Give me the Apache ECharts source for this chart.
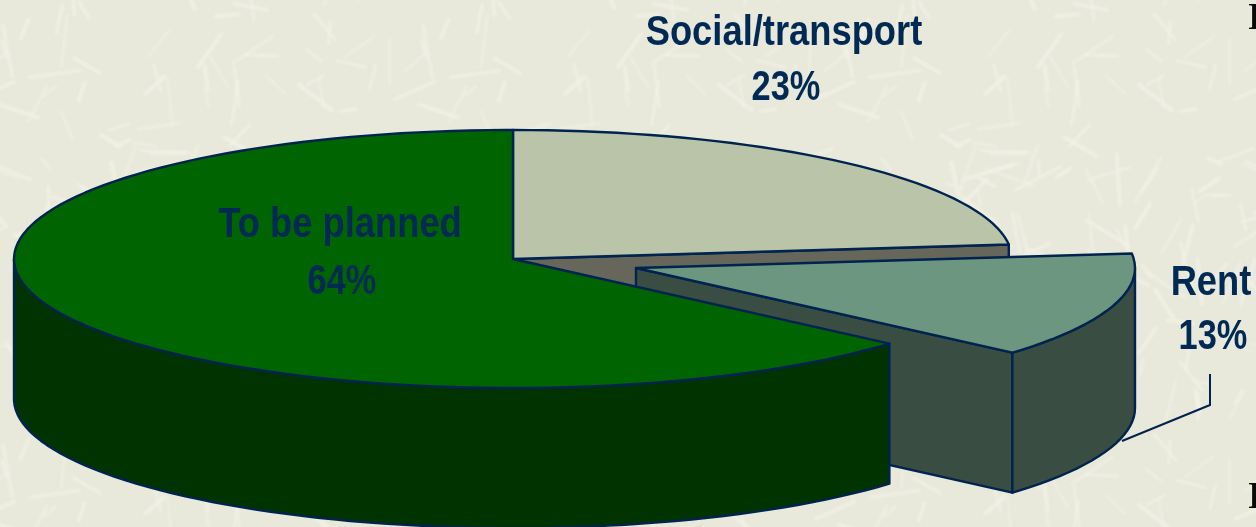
<!DOCTYPE html>
<html><head><meta charset="utf-8">
<style>html,body{margin:0;padding:0;background:#e9e9dc}#c{width:1256px;height:527px}</style>
<script src="https://cdn.jsdelivr.net/npm/echarts@6/dist/echarts.min.js"></script>
</head><body><div id="c"></div>
<script>
const categories = ['Social/transport', 'Rent', 'To be planned'];
const shares = [23.2, 13.2, 63.6];
const percentLabels = ['23%', '13%', '64%'];

const topColors = ['#B9C4A8', '#6D9680', '#006400'];
const sideColors = ['#66665A', '#3A4D42', '#003300'];
const explode = [[0, 0], [123, 9], [0, 0]];
const labelPos = [[784, 33, 88], [1211, 283, 337], [340, 225, 282]];
const NAVY = '#00234F', TEXT = '#002A54';
const CX = 513, CY = 259, RX = 499, RY = 129, DEPTH = 140;
const FONT = 'bold 43px "Liberation Sans",Arial,sans-serif';

function makeTile() {
  const S = 420, cv = document.createElement('canvas');
  cv.width = cv.height = S;
  const g = cv.getContext('2d');
  g.fillStyle = '#E8E8DB'; g.fillRect(0, 0, S, S);
  let seed = 12345;
  const next = () => (seed = (seed * 1103515 + 12345) % 2147483648) / 2147483648;
  g.filter = 'blur(1.5px)';
  g.lineCap = 'round';
  for (let i = 0; i < 190; i++) {
    const x = next() * S, y = next() * S, a = next() * Math.PI * 2, l = 14 + next() * 40;
    g.strokeStyle = '#F1F1E6';
    g.lineWidth = 1.5 + next() * 2;
    for (const ox of [-S, 0, S]) for (const oy of [-S, 0, S]) {
      g.beginPath();
      g.moveTo(x + ox, y + oy);
      g.lineTo(x + ox + Math.cos(a) * l, y + oy + Math.sin(a) * l);
      g.stroke();
    }
  }
  return cv;
}

const total = shares.reduce((a, b) => a + b, 0);
const deg = Math.PI / 180;

function renderItem(params, api) {
  const i = params.dataIndex;
  const before = shares.slice(0, i).reduce((a, b) => a + b, 0);
  const start = before / total * 360, end = start + api.value(0) / total * 360;
  const ox = CX + explode[i][0], oy = CY + explode[i][1];
  const pt = (t, d) => [ox + RX * Math.sin(t * deg), oy - RY * Math.cos(t * deg) + (d || 0)];
  const arc = (a, b, d) => {
    const out = [];
    for (let t = a; t < b; t += 2) out.push(pt(t, d));
    out.push(pt(b, d));
    return out;
  };
  const strokeStyle = (fill) => ({ fill, stroke: NAVY, lineWidth: 2.4, lineJoin: 'round' });
  const children = [];
  if (Math.sin(end * deg) > 0.001) {
    const p = pt(end), q = pt(end, DEPTH);
    children.push({ type: 'polygon', shape: { points: [[ox, oy], p, q, [ox, oy + DEPTH]] }, style: strokeStyle(sideColors[i]) });
  }
  const a = Math.max(start, 90), b = Math.min(end, 270);
  if (b > a) {
    const upper = arc(a, b, 0), lower = arc(a, b, DEPTH).reverse();
    children.push({ type: 'polygon', shape: { points: upper.concat(lower) }, style: strokeStyle(sideColors[i]) });
  }
  children.push({ type: 'polygon', shape: { points: [[ox, oy]].concat(arc(start, end, 0)) }, style: strokeStyle(topColors[i]) });
  const lp = labelPos[i];
  [categories[i], percentLabels[i]].forEach((text, k) => {
    children.push({
      type: 'text', x: lp[0] + (k ? 2 : 0), y: lp[k + 1], scaleX: k ? 0.8 : 0.845,
      style: { text, x: 0, y: 0, textAlign: 'center', textVerticalAlign: 'middle', font: FONT, fill: TEXT }
    });
  });
  return { type: 'group', children };
}

const chart = echarts.init(document.getElementById('c'), null, { renderer: 'canvas', width: 1256, height: 527 });
chart.setOption({
  animation: false,
  backgroundColor: { image: makeTile(), repeat: 'repeat' },
  series: [{
    type: 'custom',
    coordinateSystem: 'none',
    renderItem,
    data: shares.map((v, i) => ({ name: categories[i], value: [v] }))
  }],
  graphic: [
    { type: 'polyline', z: 10, shape: { points: [[1210, 374], [1210, 405], [1122, 441]] }, style: { stroke: NAVY, lineWidth: 2, fill: null } },
    { type: 'text', z: 10, style: { text: 'I', x: 1255, y: 19, textAlign: 'center', textVerticalAlign: 'middle', font: 'bold 37px "Liberation Serif",serif', fill: '#0b0b05' } },
    { type: 'text', z: 10, style: { text: 'I', x: 1255, y: 498, textAlign: 'center', textVerticalAlign: 'middle', font: 'bold 37px "Liberation Serif",serif', fill: '#0b0b05' } }
  ]
});
</script></body></html>
